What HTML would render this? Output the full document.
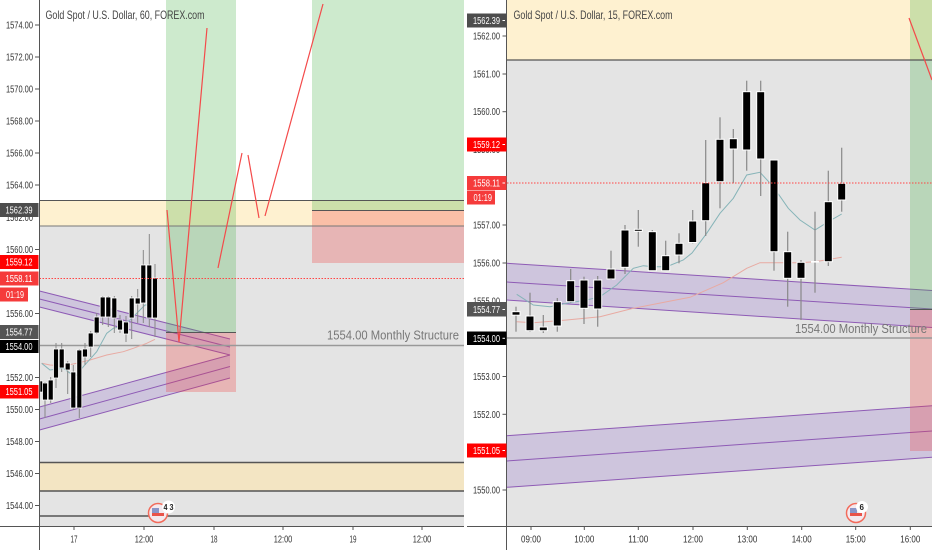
<!DOCTYPE html>
<html><head><meta charset="utf-8"><style>
html,body{margin:0;padding:0;background:#fff;}
svg{display:block;font-family:"Liberation Sans",Arial,sans-serif;}
</style></head><body>
<svg width="932" height="550" viewBox="0 0 932 550" xmlns="http://www.w3.org/2000/svg">
<rect x="0" y="0" width="932" height="550" fill="#fff"/>

<!-- ================= LEFT PANEL ================= -->
<rect x="39.5" y="200" width="424.5" height="26" fill="#fef1d0"/>
<rect x="39.5" y="226" width="424.5" height="300" fill="#e4e4e4"/>
<rect x="39.5" y="462" width="424.5" height="29" fill="#f3e5c3"/>

<!-- channels -->
<polygon points="39.5,291 230,339 230,355 39.5,307" fill="rgba(126,87,194,0.22)"/>
<polygon points="39.5,407 230,355 230,378 39.5,430" fill="rgba(126,87,194,0.22)"/>
<g stroke="#8e5bb5" stroke-width="1" fill="none">
<line x1="39.5" y1="291" x2="230" y2="339"/>
<line x1="39.5" y1="299" x2="230" y2="347"/>
<line x1="39.5" y1="307" x2="230" y2="355"/>
<line x1="39.5" y1="407" x2="230" y2="355"/>
<line x1="39.5" y1="419" x2="230" y2="366.5"/>
<line x1="39.5" y1="430" x2="230" y2="378"/>
</g>

<!-- positions -->
<rect x="166" y="0" width="70" height="332" fill="rgba(60,175,60,0.26)"/>
<rect x="166" y="332" width="70" height="60" fill="rgba(240,60,60,0.28)"/>
<rect x="312" y="0" width="152" height="210" fill="rgba(60,175,60,0.26)"/>
<rect x="312" y="210" width="152" height="53" fill="rgba(240,60,60,0.28)"/>

<!-- horizontal lines -->
<g stroke="#555" stroke-width="1">
<line x1="39.5" y1="200.5" x2="464" y2="200.5"/>
<line x1="39.5" y1="226" x2="464" y2="226" stroke="#777"/>
<line x1="312" y1="210.5" x2="464" y2="210.5"/>
<line x1="166" y1="332.5" x2="236" y2="332.5"/>
<line x1="39.5" y1="462.5" x2="464" y2="462.5" stroke-width="1.5"/>
<line x1="39.5" y1="491" x2="464" y2="491" stroke-width="1.5"/>
<line x1="39.5" y1="516" x2="464" y2="516" stroke-width="1.5"/>
</g>
<line x1="39.5" y1="345.5" x2="464" y2="345.5" stroke="#999" stroke-width="1.5"/>
<text x="327" y="339.5" font-size="12.5" fill="#777" textLength="132" lengthAdjust="spacingAndGlyphs">1554.00 Monthly Structure</text>

<!-- moving averages -->
<polyline fill="none" stroke="#e8aaa2" stroke-width="1" points="41.7,363.3 50,365 63.3,366 76.7,363.3 90,360 106.7,355 123.3,351.7 133.3,348.3 146.7,343.3 155,339.3"/>
<polyline fill="none" stroke="#86b4b8" stroke-width="1" points="41.7,363.3 50,370 63.3,368.3 75,376.7 83.3,366.7 96.7,351.7 106.7,333.3 113.3,328.3 120,326.7 130,320 140,310 145,305 153.3,305"/>

<!-- candles left -->
<g stroke="#888" stroke-width="1">
<line x1="45" y1="382" x2="45" y2="418"/>
<line x1="50.7" y1="377" x2="50.7" y2="403"/>
<line x1="56" y1="343" x2="56" y2="388"/>
<line x1="61.7" y1="343" x2="61.7" y2="372"/>
<line x1="67.7" y1="361" x2="67.7" y2="394"/>
<line x1="73.3" y1="365" x2="73.3" y2="410"/>
<line x1="79.3" y1="349" x2="79.3" y2="418"/>
<line x1="85" y1="343" x2="85" y2="365"/>
<line x1="90.7" y1="331" x2="90.7" y2="357"/>
<line x1="96.7" y1="313" x2="96.7" y2="334"/>
<line x1="102.7" y1="296" x2="102.7" y2="325"/>
<line x1="108.3" y1="296" x2="108.3" y2="327"/>
<line x1="114.3" y1="296" x2="114.3" y2="333"/>
<line x1="120" y1="315" x2="120" y2="333"/>
<line x1="126" y1="316" x2="126" y2="342"/>
<line x1="131.7" y1="296" x2="131.7" y2="339"/>
<line x1="137.7" y1="289" x2="137.7" y2="323"/>
<line x1="143.3" y1="250" x2="143.3" y2="323"/>
<line x1="149.3" y1="234" x2="149.3" y2="327"/>
<line x1="155" y1="264" x2="155" y2="337"/>
</g>
<g fill="#000" stroke="#fff" stroke-width="0.8">
<rect x="42.5" y="383" width="5" height="17"/>
<rect x="48.2" y="380" width="5" height="20"/>
<rect x="53.5" y="349" width="5" height="29"/>
<rect x="59.2" y="349" width="5" height="19"/>
<rect x="65.2" y="363" width="5" height="7"/>
<rect x="70.8" y="372" width="5" height="36"/>
<rect x="76.8" y="350" width="5" height="58"/>
<rect x="82.5" y="349" width="5" height="8"/>
<rect x="88.2" y="333" width="5" height="14"/>
<rect x="94.2" y="317" width="5" height="16"/>
<rect x="100.2" y="297" width="5" height="20"/>
<rect x="105.8" y="297" width="5" height="20"/>
<rect x="111.8" y="298" width="5" height="20"/>
<rect x="117.5" y="320" width="5" height="10"/>
<rect x="123.5" y="322" width="5" height="12"/>
<rect x="129.2" y="298" width="5" height="20"/>
<rect x="135.2" y="298" width="5" height="6"/>
<rect x="140.8" y="265" width="5" height="38"/>
<rect x="146.8" y="265" width="5" height="53"/>
<rect x="152.5" y="278" width="5" height="40"/>
</g>
<rect x="40" y="381" width="2.5" height="11" fill="#000" stroke="#fff" stroke-width="0.6"/>

<!-- red drawing lines -->
<g stroke="#f44a4a" stroke-width="1.2" fill="none">
<polyline points="167,210 179,342 207,28"/>
<line x1="218" y1="268" x2="242" y2="153"/>
<line x1="248" y1="155" x2="259" y2="218"/>
<line x1="265" y1="216" x2="323" y2="4"/>
</g>
<line x1="39.5" y1="278.5" x2="464" y2="278.5" stroke="#f44" stroke-width="1" stroke-dasharray="1.5,1.5"/>

<!-- left axes -->
<line x1="39.5" y1="0" x2="39.5" y2="550" stroke="#555" stroke-width="1"/>
<line x1="0" y1="526.5" x2="464" y2="526.5" stroke="#555" stroke-width="1"/>
<text x="45.5" y="19" font-size="12" fill="#444" textLength="159" lengthAdjust="spacingAndGlyphs">Gold Spot / U.S. Dollar, 60, FOREX.com</text>

<g font-size="10" fill="#333">
<text x="6" y="28.5" textLength="27" lengthAdjust="spacingAndGlyphs">1574.00</text>
<text x="6" y="60.5" textLength="27" lengthAdjust="spacingAndGlyphs">1572.00</text>
<text x="6" y="92.5" textLength="27" lengthAdjust="spacingAndGlyphs">1570.00</text>
<text x="6" y="124.5" textLength="27" lengthAdjust="spacingAndGlyphs">1568.00</text>
<text x="6" y="156.5" textLength="27" lengthAdjust="spacingAndGlyphs">1566.00</text>
<text x="6" y="188.5" textLength="27" lengthAdjust="spacingAndGlyphs">1564.00</text>
<text x="6" y="221" textLength="27" lengthAdjust="spacingAndGlyphs">1562.00</text>
<text x="6" y="253" textLength="27" lengthAdjust="spacingAndGlyphs">1560.00</text>
<text x="6" y="317" textLength="27" lengthAdjust="spacingAndGlyphs">1556.00</text>
<text x="6" y="381" textLength="27" lengthAdjust="spacingAndGlyphs">1552.00</text>
<text x="6" y="413" textLength="27" lengthAdjust="spacingAndGlyphs">1550.00</text>
<text x="6" y="445" textLength="27" lengthAdjust="spacingAndGlyphs">1548.00</text>
<text x="6" y="477" textLength="27" lengthAdjust="spacingAndGlyphs">1546.00</text>
<text x="6" y="509" textLength="27" lengthAdjust="spacingAndGlyphs">1544.00</text>
</g>
<g stroke="#555" stroke-width="1">
<line x1="35" y1="25" x2="39" y2="25"/><line x1="35" y1="57" x2="39" y2="57"/>
<line x1="35" y1="89" x2="39" y2="89"/><line x1="35" y1="121" x2="39" y2="121"/>
<line x1="35" y1="153" x2="39" y2="153"/><line x1="35" y1="185" x2="39" y2="185"/>
<line x1="35" y1="249.5" x2="39" y2="249.5"/><line x1="35" y1="313.5" x2="39" y2="313.5"/>
<line x1="35" y1="377.5" x2="39" y2="377.5"/><line x1="35" y1="409.5" x2="39" y2="409.5"/>
<line x1="35" y1="441.5" x2="39" y2="441.5"/><line x1="35" y1="473.5" x2="39" y2="473.5"/>
<line x1="35" y1="505.5" x2="39" y2="505.5"/>
</g>

<!-- left badges -->
<rect x="0" y="203" width="38.5" height="14" fill="#4d4d4d"/>
<rect x="0" y="255" width="38.5" height="14" fill="#ff0000"/>
<rect x="0" y="271.5" width="38.5" height="14" fill="#f53b3b"/>
<rect x="0" y="287.5" width="28" height="14" fill="#f53b3b"/>
<rect x="0" y="325" width="38.5" height="14" fill="#555"/>
<rect x="0" y="340" width="38.5" height="13" fill="#000"/>
<rect x="0" y="385" width="38.5" height="13.5" fill="#ff0000"/>
<g font-size="10" fill="#fff">
<text x="5.5" y="213.5" textLength="27" lengthAdjust="spacingAndGlyphs">1562.39</text>
<text x="5.5" y="265.5" textLength="27" lengthAdjust="spacingAndGlyphs">1559.12</text>
<text x="5.5" y="282" textLength="27" lengthAdjust="spacingAndGlyphs">1558.11</text>
<text x="6" y="298" textLength="18" lengthAdjust="spacingAndGlyphs">01:19</text>
<text x="5.5" y="335.5" textLength="27" lengthAdjust="spacingAndGlyphs">1554.77</text>
<text x="5.5" y="350" textLength="27" lengthAdjust="spacingAndGlyphs">1554.00</text>
<text x="5.5" y="395" textLength="27" lengthAdjust="spacingAndGlyphs">1551.05</text>
</g>

<!-- left time axis -->
<g stroke="#555" stroke-width="1">
<line x1="74" y1="526.5" x2="74" y2="530"/><line x1="144" y1="526.5" x2="144" y2="530"/>
<line x1="214" y1="526.5" x2="214" y2="530"/><line x1="283" y1="526.5" x2="283" y2="530"/>
<line x1="353" y1="526.5" x2="353" y2="530"/><line x1="422" y1="526.5" x2="422" y2="530"/>
</g>
<g font-size="10" fill="#333">
<text x="70.5" y="542.5" textLength="7" lengthAdjust="spacingAndGlyphs">17</text>
<text x="134.8" y="542.5" textLength="18.5" lengthAdjust="spacingAndGlyphs">12:00</text>
<text x="210.5" y="542.5" textLength="7" lengthAdjust="spacingAndGlyphs">18</text>
<text x="273.8" y="542.5" textLength="18.5" lengthAdjust="spacingAndGlyphs">12:00</text>
<text x="349.5" y="542.5" textLength="7" lengthAdjust="spacingAndGlyphs">19</text>
<text x="412.8" y="542.5" textLength="18.5" lengthAdjust="spacingAndGlyphs">12:00</text>
</g>

<!-- left event icon -->
<circle cx="158" cy="513" r="9.5" fill="#f4e9ee" stroke="#f26b5b" stroke-width="1.5"/>
<rect x="152" y="508" width="7" height="5" fill="#8a95c8"/>
<rect x="152" y="513" width="12" height="3" fill="#e9534a"/>
<circle cx="168.5" cy="507" r="6.5" fill="#fff"/>
<text x="163.5" y="510" font-size="8" font-weight="bold" fill="#222" textLength="10" lengthAdjust="spacingAndGlyphs">4 3</text>

<!-- ================= RIGHT PANEL ================= -->
<rect x="507" y="0" width="425" height="60" fill="#fef1d0"/>
<rect x="507" y="60" width="425" height="466" fill="#e4e4e4"/>

<polygon points="507,263.3 932,290.5 932,327.5 507,300" fill="rgba(126,87,194,0.22)"/>
<polygon points="507,435.7 932,405.7 932,457.3 507,487.3" fill="rgba(126,87,194,0.22)"/>
<g stroke="#8e5bb5" stroke-width="1" fill="none">
<line x1="507" y1="263.3" x2="932" y2="290.5"/>
<line x1="507" y1="282" x2="932" y2="309"/>
<line x1="507" y1="300" x2="932" y2="327.5"/>
<line x1="507" y1="435.7" x2="932" y2="405.7"/>
<line x1="507" y1="461" x2="932" y2="431"/>
<line x1="507" y1="487.3" x2="932" y2="457.3"/>
</g>

<rect x="910" y="0" width="22" height="309" fill="rgba(60,175,60,0.26)"/>
<rect x="910" y="309" width="22" height="142" fill="rgba(240,60,60,0.28)"/>

<line x1="507" y1="60" x2="932" y2="60" stroke="#555" stroke-width="1.2"/>
<line x1="910" y1="309.5" x2="932" y2="309.5" stroke="#555" stroke-width="1"/>
<line x1="507" y1="338" x2="932" y2="338" stroke="#999" stroke-width="1.5"/>
<text x="795" y="333" font-size="12.5" fill="#777" textLength="132" lengthAdjust="spacingAndGlyphs">1554.00 Monthly Structure</text>

<polyline fill="none" stroke="#e8aaa2" stroke-width="1" points="516.7,321.7 533.3,322.7 566.7,320 600,316.7 633.3,308.3 666.7,301.7 690,297.3 723.3,282.7 746.7,268.3 760,262.7 800,262.7 815,261.7 841.7,257.3"/>
<polyline fill="none" stroke="#86b4b8" stroke-width="1" points="516.7,294.3 533.3,305 550,306.7 566.7,303.3 586.7,300 600,296.7 616.7,285 633.3,268.3 643.3,265.7 653.3,266.7 666.7,266.7 683.3,260 692,253 706.7,233.3 720,213.3 733.3,198.3 746.7,175 760,172.3 773.3,186.7 788.3,208.3 800,220 815,230 828.3,221.7 841.7,214"/>

<!-- candles right -->
<g stroke="#888" stroke-width="1.2">
<line x1="516" y1="306.7" x2="516" y2="331.7"/>
<line x1="530" y1="292.7" x2="530" y2="331.7"/>
<line x1="543.3" y1="315" x2="543.3" y2="333"/>
<line x1="557.3" y1="298" x2="557.3" y2="331.7"/>
<line x1="570.7" y1="269" x2="570.7" y2="303"/>
<line x1="584" y1="276.7" x2="584" y2="324"/>
<line x1="597.7" y1="276" x2="597.7" y2="326.7"/>
<line x1="611" y1="250.7" x2="611" y2="280"/>
<line x1="625" y1="225" x2="625" y2="274"/>
<line x1="638.3" y1="210" x2="638.3" y2="246.7"/>
<line x1="652.3" y1="230" x2="652.3" y2="271"/>
<line x1="665.7" y1="240.7" x2="665.7" y2="271"/>
<line x1="679" y1="233.3" x2="679" y2="263.3"/>
<line x1="692.7" y1="210" x2="692.7" y2="243.3"/>
<line x1="705.7" y1="140" x2="705.7" y2="236"/>
<line x1="720" y1="117.3" x2="720" y2="208.3"/>
<line x1="733.3" y1="129" x2="733.3" y2="183.3"/>
<line x1="746.7" y1="80.7" x2="746.7" y2="170.7"/>
<line x1="760.7" y1="80.7" x2="760.7" y2="196"/>
<line x1="774" y1="160" x2="774" y2="270.7"/>
<line x1="787.7" y1="231.7" x2="787.7" y2="306.7"/>
<line x1="801" y1="260" x2="801" y2="320"/>
<line x1="815" y1="211.7" x2="815" y2="292.7"/>
<line x1="828.3" y1="170.7" x2="828.3" y2="266"/>
<line x1="841.7" y1="147.7" x2="841.7" y2="211.7"/>
</g>
<g fill="#000" stroke="#fff" stroke-width="1">
<rect x="512" y="311.7" width="8" height="3.5"/>
<rect x="526" y="316" width="8" height="14.7"/>
<rect x="539.3" y="327" width="8" height="3.7"/>
<rect x="553.3" y="301.7" width="8" height="24.3"/>
<rect x="566.7" y="280.7" width="8" height="21"/>
<rect x="580" y="280" width="8" height="28.3"/>
<rect x="593.7" y="280" width="8" height="29"/>
<rect x="607" y="269" width="8" height="10"/>
<rect x="621" y="230" width="8" height="37.3"/>
<rect x="634.3" y="229.3" width="8" height="2"/>
<rect x="648.3" y="231.7" width="8" height="39"/>
<rect x="661.7" y="255.7" width="8" height="15"/>
<rect x="675" y="243.3" width="8" height="11.7"/>
<rect x="688.7" y="221" width="8" height="21.5"/>
<rect x="701.7" y="182.7" width="8" height="38"/>
<rect x="716" y="139.3" width="8" height="42.4"/>
<rect x="729.3" y="138.7" width="8" height="10.3"/>
<rect x="742.7" y="91.7" width="8" height="58.3"/>
<rect x="756.7" y="91.7" width="8" height="67.3"/>
<rect x="770" y="160" width="8" height="91.7"/>
<rect x="783.7" y="251.7" width="8" height="26.6"/>
<rect x="797" y="262.3" width="8" height="16"/>
<rect x="824.3" y="201.7" width="8" height="60"/>
<rect x="837.7" y="183.3" width="8" height="16.7"/>
</g>
<rect x="811" y="261" width="8" height="1.6" fill="#fff"/>

<line x1="909" y1="18" x2="932" y2="80" stroke="#f44a4a" stroke-width="1.2"/>
<line x1="507" y1="183" x2="932" y2="183" stroke="#f44" stroke-width="1" stroke-dasharray="1.5,1.5"/>

<!-- right axes -->
<line x1="506.5" y1="0" x2="506.5" y2="550" stroke="#555" stroke-width="1"/>
<line x1="467" y1="526.5" x2="932" y2="526.5" stroke="#555" stroke-width="1"/>
<text x="513.5" y="19" font-size="12" fill="#444" textLength="159" lengthAdjust="spacingAndGlyphs">Gold Spot / U.S. Dollar, 15, FOREX.com</text>

<g font-size="10" fill="#333">
<text x="473" y="39.5" textLength="27" lengthAdjust="spacingAndGlyphs">1562.00</text>
<text x="473" y="77.3" textLength="27" lengthAdjust="spacingAndGlyphs">1561.00</text>
<text x="473" y="115.2" textLength="27" lengthAdjust="spacingAndGlyphs">1560.00</text>
<text x="473" y="153" textLength="27" lengthAdjust="spacingAndGlyphs">1559.00</text>
<text x="473" y="228.7" textLength="27" lengthAdjust="spacingAndGlyphs">1557.00</text>
<text x="473" y="266.5" textLength="27" lengthAdjust="spacingAndGlyphs">1556.00</text>
<text x="473" y="304.3" textLength="27" lengthAdjust="spacingAndGlyphs">1555.00</text>
<text x="473" y="380" textLength="27" lengthAdjust="spacingAndGlyphs">1553.00</text>
<text x="473" y="417.8" textLength="27" lengthAdjust="spacingAndGlyphs">1552.00</text>
<text x="473" y="493.5" textLength="27" lengthAdjust="spacingAndGlyphs">1550.00</text>
</g>
<g stroke="#555" stroke-width="1">
<line x1="502.5" y1="36" x2="506.5" y2="36"/><line x1="502.5" y1="74" x2="506.5" y2="74"/>
<line x1="502.5" y1="111.7" x2="506.5" y2="111.7"/><line x1="502.5" y1="225" x2="506.5" y2="225"/>
<line x1="502.5" y1="263" x2="506.5" y2="263"/><line x1="502.5" y1="376.5" x2="506.5" y2="376.5"/>
<line x1="502.5" y1="414.3" x2="506.5" y2="414.3"/><line x1="502.5" y1="490" x2="506.5" y2="490"/>
</g>

<rect x="467" y="13.5" width="39.5" height="14" fill="#4d4d4d"/>
<rect x="467" y="137.5" width="39.5" height="14" fill="#ff0000"/>
<rect x="467" y="176" width="39.5" height="14" fill="#f53b3b"/>
<rect x="467" y="190.5" width="28" height="14" fill="#f53b3b"/>
<rect x="467" y="302" width="39.5" height="14.5" fill="#555"/>
<rect x="467" y="331.5" width="39.5" height="13.5" fill="#000"/>
<rect x="467" y="443.5" width="39.5" height="14" fill="#ff0000"/>
<g font-size="10" fill="#fff">
<text x="473" y="24" textLength="27" lengthAdjust="spacingAndGlyphs">1562.39</text>
<text x="473" y="148" textLength="27" lengthAdjust="spacingAndGlyphs">1559.12</text>
<text x="473" y="186.5" textLength="27" lengthAdjust="spacingAndGlyphs">1558.11</text>
<text x="473.5" y="201" textLength="18.5" lengthAdjust="spacingAndGlyphs">01:19</text>
<text x="473" y="313" textLength="27" lengthAdjust="spacingAndGlyphs">1554.77</text>
<text x="473" y="341.8" textLength="27" lengthAdjust="spacingAndGlyphs">1554.00</text>
<text x="473" y="454" textLength="27" lengthAdjust="spacingAndGlyphs">1551.05</text>
</g>
<g stroke="#fff" stroke-width="1">
<line x1="502.5" y1="20.5" x2="505" y2="20.5"/><line x1="502.5" y1="144.5" x2="505" y2="144.5"/>
<line x1="502.5" y1="183" x2="505" y2="183"/><line x1="502.5" y1="309.5" x2="505" y2="309.5"/>
<line x1="502.5" y1="338.3" x2="505" y2="338.3"/><line x1="502.5" y1="450.5" x2="505" y2="450.5"/>
</g>

<g stroke="#555" stroke-width="1">
<line x1="531" y1="526.5" x2="531" y2="530"/><line x1="584.3" y1="526.5" x2="584.3" y2="530"/>
<line x1="638.3" y1="526.5" x2="638.3" y2="530"/><line x1="693" y1="526.5" x2="693" y2="530"/>
<line x1="747.3" y1="526.5" x2="747.3" y2="530"/><line x1="801.7" y1="526.5" x2="801.7" y2="530"/>
<line x1="855.7" y1="526.5" x2="855.7" y2="530"/><line x1="910.3" y1="526.5" x2="910.3" y2="530"/>
</g>
<g font-size="10" fill="#333">
<text x="521" y="542.5" textLength="20" lengthAdjust="spacingAndGlyphs">09:00</text>
<text x="574.3" y="542.5" textLength="20" lengthAdjust="spacingAndGlyphs">10:00</text>
<text x="628.3" y="542.5" textLength="20" lengthAdjust="spacingAndGlyphs">11:00</text>
<text x="683" y="542.5" textLength="20" lengthAdjust="spacingAndGlyphs">12:00</text>
<text x="737.3" y="542.5" textLength="20" lengthAdjust="spacingAndGlyphs">13:00</text>
<text x="791.7" y="542.5" textLength="20" lengthAdjust="spacingAndGlyphs">14:00</text>
<text x="845.7" y="542.5" textLength="20" lengthAdjust="spacingAndGlyphs">15:00</text>
<text x="900.3" y="542.5" textLength="20" lengthAdjust="spacingAndGlyphs">16:00</text>
</g>

<circle cx="856" cy="513" r="9.5" fill="#f4e9ee" stroke="#f26b5b" stroke-width="1.5"/>
<rect x="850" y="508" width="7" height="5" fill="#8a95c8"/>
<rect x="850" y="513" width="12" height="3" fill="#e9534a"/>
<circle cx="862" cy="507" r="6" fill="#fff"/>
<text x="859.5" y="510" font-size="8" font-weight="bold" fill="#222">6</text>
</svg>
</body></html>
